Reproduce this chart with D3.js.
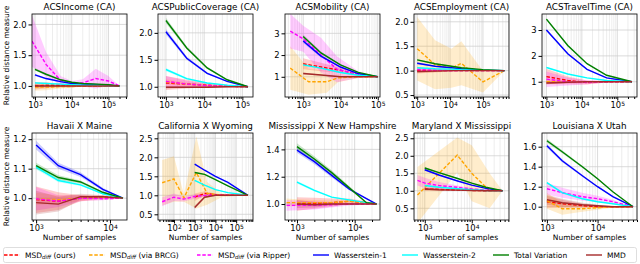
<!DOCTYPE html>
<html lang="en">
<head>
<meta charset="UTF-8">
<title>Relative distance measures</title>
<script src="https://d3js.org/d3.v7.min.js"></script>
<style>
  body { margin: 0; background: #fff; }
  svg { font-family: "DejaVu Sans", sans-serif; display: block; }
</style>
</head>
<body>
<div id="chart"></div>
<script>
// series keys in legend order
const keys = ["msd", "brcg", "ripper", "w1", "w2", "tv", "mmd"];
const colors = { msd: "#ff0000", brcg: "#ffa500", ripper: "#ff00ff", w1: "#0000ff", w2: "#00ffff", tv: "#008000", mmd: "#a52a2a" };
const dashed = { msd: true, brcg: true, ripper: true };
const legendLabels = [["MSD", "diff", " (ours)"], ["MSD", "diff", " (via BRCG)"], ["MSD", "diff", " (via Ripper)"],
  ["Wasserstein-1"], ["Wasserstein-2"], ["Total Variation"], ["MMD"]];

// helper: one series = sample sizes, mean, half width of the shaded band
const s = (n, y, b) => ({ n, y, b });

// ---- top row: folktables tasks ----
const incomeN = [1000, 2000, 5000, 10000, 20000, 50000, 100000, 200000];
const income = {
  title: "ACSIncome (CA)", xDomain: [830, 3.2e5], yDomain: [0.82, 2.17], yTicks: [1.0, 1.5, 2.0], xTicks: [1e3, 1e4, 1e5],
  msd: s(incomeN, [1.00, 1.01, 1.01, 1.00, 1.00, 1.00, 1.00, 1.00], [0.06, 0.05, 0.03, 0.02, 0.01, 0.01, 0.005, 0]),
  brcg: s(incomeN, [0.98, 0.98, 0.99, 0.99, 1.00, 1.00, 1.00, 1.00], [0.06, 0.05, 0.03, 0.02, 0.01, 0.01, 0.005, 0]),
  ripper: s([830, 2000, 5000, 10000, 20000, 45000, 100000, 200000], [1.73, 1.35, 1.09, 1.04, 1.05, 1.12, 1.08, 1.00], [0.42, 0.2, 0.07, 0.04, 0.06, 0.16, 0.08, 0]),
  w1: s(incomeN, [1.18, 1.12, 1.07, 1.04, 1.03, 1.02, 1.01, 1.00], [0.02, 0.015, 0.01, 0.01, 0.005, 0.005, 0, 0]),
  w2: s(incomeN, [1.05, 1.04, 1.03, 1.02, 1.01, 1.01, 1.00, 1.00], [0.015, 0.01, 0.01, 0.005, 0.005, 0, 0, 0]),
  tv: s(incomeN, [1.27, 1.19, 1.10, 1.06, 1.04, 1.03, 1.02, 1.00], [0.02, 0.015, 0.01, 0.01, 0.005, 0.005, 0, 0]),
  mmd: s(incomeN, [1.00, 1.00, 1.00, 1.00, 1.00, 1.00, 1.00, 1.00], [0.03, 0.02, 0.01, 0.01, 0.005, 0, 0, 0])
};

const coverageN = [1000, 3500, 12000, 40000, 140000];
const coverage = {
  title: "ACSPublicCoverage (CA)", xDomain: [620, 1.9e5], yDomain: [0.81, 2.35], yTicks: [1.0, 1.5, 2.0], xTicks: [1e3, 1e4, 1e5],
  msd: s(coverageN, [1.07, 1.05, 1.03, 1.01, 1.00], [0.13, 0.08, 0.04, 0.02, 0]),
  brcg: s(coverageN, [1.09, 1.05, 1.02, 1.01, 1.00], [0.05, 0.03, 0.02, 0.01, 0]),
  ripper: s(coverageN, [1.10, 1.05, 1.02, 1.01, 1.00], [0.1, 0.06, 0.03, 0.01, 0]),
  w1: s(coverageN, [2.02, 1.53, 1.25, 1.10, 1.00], [0.05, 0.03, 0.02, 0.01, 0]),
  w2: s(coverageN, [1.32, 1.15, 1.07, 1.03, 1.00], [0.03, 0.02, 0.01, 0.005, 0]),
  tv: s(coverageN, [2.23, 1.72, 1.35, 1.13, 1.00], [0.05, 0.03, 0.02, 0.01, 0]),
  mmd: s(coverageN, [0.99, 0.99, 0.99, 1.00, 1.00], [0.02, 0.01, 0.01, 0, 0])
};

const mobilityN = [1000, 3000, 10000, 30000, 100000];
const mobility = {
  title: "ACSMobility (CA)", xDomain: [325, 1.15e5], yDomain: [0.07, 3.89], yTicks: [1, 2, 3], xTicks: [1e3, 1e4, 1e5],
  msd: s(mobilityN, [1.60, 1.45, 1.30, 1.10, 1.00], [0.25, 0.2, 0.12, 0.05, 0]),
  brcg: s([450, 1400, 4300, 8500, 30000, 100000], [1.40, 0.77, 0.77, 0.95, 1.00, 1.00], [1.0, 0.6, 0.5, 0.2, 0.05, 0]),
  ripper: s([450, 1000, 3000, 8000, 30000, 100000], [3.10, 2.75, 2.00, 1.35, 1.10, 1.00], [0.8, 0.6, 0.8, 0.6, 0.15, 0]),
  w1: s(mobilityN, [2.65, 1.95, 1.45, 1.15, 1.00], [0.1, 0.06, 0.03, 0.01, 0]),
  w2: s(mobilityN, [1.55, 1.40, 1.20, 1.07, 1.00], [0.05, 0.03, 0.02, 0.01, 0]),
  tv: s(mobilityN, [2.85, 2.10, 1.55, 1.20, 1.00], [0.1, 0.06, 0.03, 0.01, 0]),
  mmd: s(mobilityN, [1.15, 1.08, 1.00, 1.00, 1.00], [0.05, 0.03, 0.01, 0, 0])
};

const employmentN = [1000, 3500, 11000, 22000, 100000, 450000];
const employment = {
  title: "ACSEmployment (CA)", xDomain: [800, 6.2e5], yDomain: [0.46, 2.16], yTicks: [0.5, 1.0, 1.5, 2.0], xTicks: [1e3, 1e4, 1e5],
  msd: s(employmentN, [1.00, 1.00, 1.00, 1.00, 1.00, 1.00], [0.06, 0.04, 0.02, 0.01, 0.005, 0]),
  brcg: s(employmentN, [1.45, 1.12, 1.05, 1.15, 0.77, 1.00], [0.65, 0.5, 0.4, 0.45, 0.22, 0]),
  ripper: s(employmentN, [1.02, 1.01, 1.00, 1.00, 1.00, 1.00], [0.04, 0.03, 0.02, 0.01, 0, 0]),
  w1: s(employmentN, [1.15, 1.09, 1.06, 1.04, 1.01, 1.00], [0.02, 0.01, 0.01, 0.005, 0, 0]),
  w2: s(employmentN, [1.06, 1.04, 1.03, 1.02, 1.01, 1.00], [0.01, 0.01, 0.005, 0, 0, 0]),
  tv: s(employmentN, [1.22, 1.14, 1.09, 1.06, 1.02, 1.00], [0.02, 0.01, 0.01, 0.005, 0, 0]),
  mmd: s(employmentN, [0.98, 0.99, 1.00, 1.00, 1.00, 1.00], [0.03, 0.02, 0.01, 0, 0, 0])
};

const travelN = [1000, 4000, 14000, 50000, 260000];
const travel = {
  title: "ACSTravelTime (CA)", xDomain: [750, 3.6e5], yDomain: [0.41, 3.62], yTicks: [1, 2, 3], xTicks: [1e3, 1e4, 1e5],
  msd: s(travelN, [1.20, 1.05, 0.97, 1.00, 1.00], [0.3, 0.15, 0.08, 0.03, 0]),
  brcg: s(travelN, [1.00, 1.00, 1.00, 1.00, 1.00], [0.1, 0.05, 0.03, 0.01, 0]),
  ripper: s(travelN, [1.10, 1.00, 0.98, 1.00, 1.00], [0.3, 0.15, 0.08, 0.03, 0]),
  w1: s(travelN, [3.00, 2.08, 1.48, 1.15, 1.00], [0.05, 0.04, 0.02, 0.01, 0]),
  w2: s(travelN, [1.55, 1.30, 1.15, 1.05, 1.00], [0.03, 0.02, 0.01, 0.005, 0]),
  tv: s(travelN, [3.42, 2.40, 1.70, 1.25, 1.00], [0.05, 0.04, 0.02, 0.01, 0]),
  mmd: s(travelN, [0.95, 0.98, 1.00, 1.00, 1.00], [0.05, 0.03, 0.01, 0, 0])
};

// ---- bottom row: state pairs ----
const hawaiiN = [1000, 2000, 4000, 8000, 15000];
const hawaii = {
  title: "Havaii X Maine", xDomain: [880, 1.7e4], yDomain: [0.926, 1.221], yTicks: [1.0, 1.1, 1.2], xTicks: [1e3, 1e4],
  msd: s(hawaiiN, [0.995, 0.990, 1.000, 1.005, 1.000], [0.045, 0.03, 0.01, 0.005, 0]),
  brcg: s(hawaiiN, [0.998, 0.995, 1.000, 1.000, 1.000], [0.02, 0.015, 0.01, 0.005, 0]),
  ripper: s(hawaiiN, [0.998, 0.990, 1.000, 0.998, 1.000], [0.04, 0.02, 0.01, 0.005, 0]),
  w1: s(hawaiiN, [1.180, 1.110, 1.080, 1.030, 1.000], [0.015, 0.01, 0.008, 0.005, 0]),
  w2: s(hawaiiN, [1.105, 1.060, 1.045, 1.015, 1.000], [0.008, 0.006, 0.004, 0.002, 0]),
  tv: s(hawaiiN, [1.110, 1.070, 1.055, 1.020, 1.000], [0.01, 0.008, 0.005, 0.003, 0]),
  mmd: s(hawaiiN, [0.985, 0.980, 1.005, 1.005, 1.000], [0.04, 0.025, 0.01, 0.005, 0])
};

const calwyN = [1000, 3000, 10000, 40000, 370000];
const calwyLowN = [27, 100, 300, 1000, 4000, 20000, 370000];
const calwy = {
  title: "California X Wyoming", xDomain: [17, 6.5e5], yDomain: [0.35, 2.64], yTicks: [0.5, 1.0, 1.5, 2.0, 2.5], xTicks: [1e2, 1e3, 1e4, 1e5],
  msd: s(calwyN, [0.95, 1.05, 1.02, 1.00, 1.00], [0.1, 0.06, 0.03, 0.01, 0]),
  brcg: s([27, 100, 300, 1200, 4000, 20000, 370000], [1.33, 1.43, 0.93, 1.60, 1.05, 1.00, 1.00], [0.6, 0.6, 0.1, 0.95, 0.3, 0.05, 0]),
  ripper: s(calwyLowN, [0.83, 0.95, 0.90, 0.97, 1.00, 1.00, 1.00], [0.12, 0.1, 0.06, 0.06, 0.03, 0.01, 0]),
  w1: s(calwyN, [1.82, 1.66, 1.50, 1.34, 1.00], [0.02, 0.015, 0.01, 0.005, 0]),
  w2: s(calwyN, [1.39, 1.27, 1.15, 1.07, 1.00], [0.02, 0.015, 0.01, 0.005, 0]),
  tv: s(calwyN, [1.60, 1.55, 1.41, 1.25, 1.00], [0.02, 0.015, 0.01, 0.005, 0]),
  mmd: s(calwyN, [0.68, 0.95, 1.00, 1.00, 1.00], [0.05, 0.03, 0.01, 0, 0])
};

const missN = [1000, 2000, 4000, 8000, 16000, 24000];
const missLowN = [660, 1000, 2000, 4000, 8000, 16000, 24000];
const missnh = {
  title: "Mississippi X New Hampshire", xDomain: [620, 2.75e4], yDomain: [0.883, 1.52], yTicks: [1.0, 1.2, 1.4], xTicks: [1e3, 1e4],
  msd: s(missN, [1.000, 1.005, 1.010, 1.020, 1.010, 1.000], [0.05, 0.04, 0.03, 0.02, 0.01, 0]),
  brcg: s(missLowN, [1.010, 1.010, 1.010, 1.010, 1.020, 1.010, 1.000], [0.03, 0.025, 0.02, 0.015, 0.01, 0.005, 0]),
  ripper: s(missLowN, [0.990, 0.990, 0.990, 0.995, 1.000, 1.000, 1.000], [0.04, 0.035, 0.03, 0.02, 0.01, 0.005, 0]),
  w1: s(missN, [1.395, 1.310, 1.210, 1.110, 1.040, 1.000], [0.02, 0.018, 0.015, 0.01, 0.005, 0]),
  w2: s(missN, [1.160, 1.100, 1.050, 1.030, 1.010, 1.000], [0.01, 0.008, 0.005, 0.004, 0.002, 0]),
  tv: s(missN, [1.420, 1.330, 1.230, 1.120, 1.010, 1.000], [0.025, 0.02, 0.018, 0.012, 0.005, 0]),
  mmd: s(missN, [1.000, 0.995, 1.000, 1.000, 1.000, 1.000], [0.03, 0.02, 0.01, 0.005, 0, 0])
};

const mdmsN = [1000, 2000, 5000, 10000, 20000, 45000];
const mdms = {
  title: "Maryland X Mississippi", xDomain: [590, 6.2e4], yDomain: [0.166, 2.65], yTicks: [0.5, 1.0, 1.5, 2.0, 2.5], xTicks: [1e3, 1e4],
  msd: s(mdmsN, [1.05, 1.04, 1.02, 1.01, 1.00, 1.00], [0.05, 0.04, 0.02, 0.01, 0.005, 0]),
  brcg: s([700, 4900, 10000, 24000, 45000], [0.88, 2.02, 1.50, 1.00, 1.00], [0.8, 0.5, 0.8, 0.5, 0]),
  ripper: s([700, 1000, 2000, 5000, 10000, 20000, 45000], [1.30, 1.22, 1.15, 1.10, 1.05, 1.02, 1.00], [0.15, 0.15, 0.1, 0.05, 0.03, 0.01, 0]),
  w1: s(mdmsN, [1.60, 1.45, 1.28, 1.16, 1.07, 1.00], [0.03, 0.02, 0.015, 0.01, 0.005, 0]),
  w2: s(mdmsN, [1.15, 1.10, 1.06, 1.03, 1.01, 1.00], [0.02, 0.015, 0.01, 0.005, 0, 0]),
  tv: s(mdmsN, [1.65, 1.52, 1.35, 1.22, 1.10, 1.00], [0.03, 0.02, 0.015, 0.01, 0.005, 0]),
  mmd: s(mdmsN, [1.05, 1.03, 1.02, 1.01, 1.00, 1.00], [0.03, 0.02, 0.01, 0.005, 0, 0])
};

const lautahN = [1000, 2000, 5000, 10000, 20000, 50000];
const lautah = {
  title: "Louisiana X Utah", xDomain: [800, 6e4], yDomain: [0.867, 1.737], yTicks: [1.0, 1.2, 1.4, 1.6], xTicks: [1e3, 1e4],
  msd: s(lautahN, [1.05, 1.03, 1.01, 1.00, 1.00, 1.00], [0.06, 0.04, 0.02, 0.01, 0.005, 0]),
  brcg: s(lautahN, [1.06, 0.98, 0.98, 0.99, 1.00, 1.00], [0.08, 0.06, 0.03, 0.02, 0.01, 0]),
  ripper: s(lautahN, [1.18, 1.14, 1.10, 1.08, 1.05, 1.00], [0.06, 0.05, 0.04, 0.03, 0.02, 0]),
  w1: s(lautahN, [1.61, 1.46, 1.31, 1.20, 1.10, 1.00], [0.02, 0.015, 0.01, 0.008, 0.005, 0]),
  w2: s(lautahN, [1.24, 1.14, 1.08, 1.05, 1.03, 1.00], [0.01, 0.01, 0.005, 0.005, 0, 0]),
  tv: s(lautahN, [1.66, 1.55, 1.40, 1.28, 1.15, 1.00], [0.02, 0.015, 0.01, 0.008, 0.005, 0]),
  mmd: s(lautahN, [1.07, 1.04, 1.02, 1.01, 1.00, 1.00], [0.05, 0.04, 0.02, 0.01, 0.005, 0])
};

const panels = [income, coverage, mobility, employment, travel, hawaii, calwy, missnh, mdms, lautah];

// layout
const width = 640, height = 264;
const colLeft = [32, 158, 285, 414, 542];
const pw = 95;
const rows = [[14, 97], [133, 220]];

const svg = d3.select("#chart").append("svg")
  .attr("width", width).attr("height", height);

const defs = svg.append("defs");

panels.forEach((p, i) => {
  const r = Math.floor(i / 5), c = i % 5;
  const left = colLeft[c], top = rows[r][0], h = rows[r][1] - top;

  const x = d3.scaleLog().domain(p.xDomain).range([0, pw]);
  const y = d3.scaleLinear().domain(p.yDomain).range([h, 0]);

  const g = svg.append("g").attr("transform", `translate(${left},${top})`);

  defs.append("clipPath").attr("id", "clip" + i)
    .append("rect").attr("width", pw).attr("height", h);

  // minor log positions
  const minor = [];
  const e0 = Math.floor(Math.log10(p.xDomain[0])), e1 = Math.ceil(Math.log10(p.xDomain[1]));
  for (let e = e0; e <= e1; e++) {
    for (let k = 2; k <= 9; k++) {
      const v = k * Math.pow(10, e);
      if (v >= p.xDomain[0] && v <= p.xDomain[1]) minor.push(v);
    }
  }

  // grid
  const grid = g.append("g");
  grid.selectAll(".gm").data(minor).enter().append("line")
    .attr("x1", d => x(d)).attr("x2", d => x(d)).attr("y1", 0).attr("y2", h)
    .attr("stroke", "#e0e0e0").attr("stroke-width", 0.6);
  grid.selectAll(".gx").data(p.xTicks).enter().append("line")
    .attr("x1", d => x(d)).attr("x2", d => x(d)).attr("y1", 0).attr("y2", h)
    .attr("stroke", "#cccccc").attr("stroke-width", 0.7);
  grid.selectAll(".gy").data(p.yTicks).enter().append("line")
    .attr("x1", 0).attr("x2", pw).attr("y1", d => y(d)).attr("y2", d => y(d))
    .attr("stroke", "#cccccc").attr("stroke-width", 0.7);

  const plot = g.append("g").attr("clip-path", `url(#clip${i})`);

  // shaded bands
  keys.forEach(k => {
    const ser = p[k];
    const pts = ser.n.map((n, j) => [n, ser.y[j], ser.b[j]]);
    const area = d3.area()
      .x(d => x(d[0]))
      .y0(d => y(d[1] - d[2]))
      .y1(d => y(d[1] + d[2]));
    plot.append("path").attr("d", area(pts))
      .attr("fill", colors[k]).attr("fill-opacity", 0.2);
  });

  // lines
  keys.forEach(k => {
    const ser = p[k];
    const pts = ser.n.map((n, j) => [n, ser.y[j]]);
    const line = d3.line().x(d => x(d[0])).y(d => y(d[1]));
    plot.append("path").attr("d", line(pts))
      .attr("fill", "none").attr("stroke", colors[k])
      .attr("stroke-width", 1.4)
      .attr("stroke-dasharray", dashed[k] ? "3.5,1.8" : null);
  });

  // axes
  const xAxis = g.append("g").attr("transform", `translate(0,${h})`)
    .call(d3.axisBottom(x).tickValues(p.xTicks).tickSize(3.5).tickPadding(2).tickSizeOuter(0));
  xAxis.select(".domain").remove();
  xAxis.selectAll(".tick text").text(null)
    .attr("font-size", 8.4).attr("font-family", "DejaVu Sans")
    .each(function (d) {
      const t = d3.select(this);
      t.append("tspan").text("10");
      t.append("tspan").attr("dy", "-0.45em").attr("font-size", 6).text(Math.round(Math.log10(d)));
    });
  g.append("g").attr("transform", `translate(0,${h})`)
    .call(d3.axisBottom(x).tickValues(minor).tickSize(2).tickFormat(() => "").tickSizeOuter(0))
    .select(".domain").remove();

  const yFmt = p.yTicks.every(v => Number.isInteger(v)) && p.yDomain[1] > 3 ? d3.format("d") : d3.format(".1f");
  const yAxis = g.append("g")
    .call(d3.axisLeft(y).tickValues(p.yTicks).tickFormat(yFmt).tickSize(3.5).tickPadding(2).tickSizeOuter(0));
  yAxis.select(".domain").remove();
  yAxis.selectAll(".tick text").attr("font-size", 8.4).attr("font-family", "DejaVu Sans");

  // frame
  g.append("rect").attr("width", pw).attr("height", h)
    .attr("fill", "none").attr("stroke", "#000").attr("stroke-width", 0.8);

  // title
  g.append("text").attr("x", pw / 2).attr("y", -4.5)
    .attr("text-anchor", "middle").attr("font-size", 8.8).attr("fill", "#000")
    .text(p.title);

  if (r === 1) {
    g.append("text").attr("x", pw / 2).attr("y", h + 20)
      .attr("text-anchor", "middle").attr("font-size", 7.5).attr("fill", "#000")
      .text("Number of samples");
  }
  if (c === 0) {
    g.append("text")
      .attr("transform", `translate(${9 - left},${h / 2}) rotate(-90)`)
      .attr("text-anchor", "middle").attr("font-size", 7.5).attr("fill", "#000")
      .text("Relative distance measure");
  }
});

// legend
const legend = svg.append("g");
legend.append("rect").attr("x", 3.5).attr("y", 247.5).attr("width", 633).attr("height", 15)
  .attr("rx", 2).attr("fill", "#fff").attr("stroke", "#d6d6d6").attr("stroke-width", 0.8);
const handleX = [4, 89, 197, 313, 402, 493, 586];
keys.forEach((k, i) => {
  const hx = handleX[i];
  legend.append("line").attr("x1", hx).attr("x2", hx + 16).attr("y1", 255).attr("y2", 255)
    .attr("stroke", colors[k]).attr("stroke-width", 1.4)
    .attr("stroke-dasharray", dashed[k] ? "3.5,1.8" : null);
  const t = legend.append("text").attr("x", hx + 21).attr("y", 257.7).attr("font-size", 7.5).attr("fill", "#000");
  const lab = legendLabels[i];
  t.append("tspan").text(lab[0]);
  if (lab.length > 1) {
    t.append("tspan").attr("font-size", 5.5).attr("font-style", "italic").attr("dy", 1.5).text(lab[1]);
    t.append("tspan").attr("dy", -1.5).text(lab[2]);
  }
});
</script>
</body>
</html>
